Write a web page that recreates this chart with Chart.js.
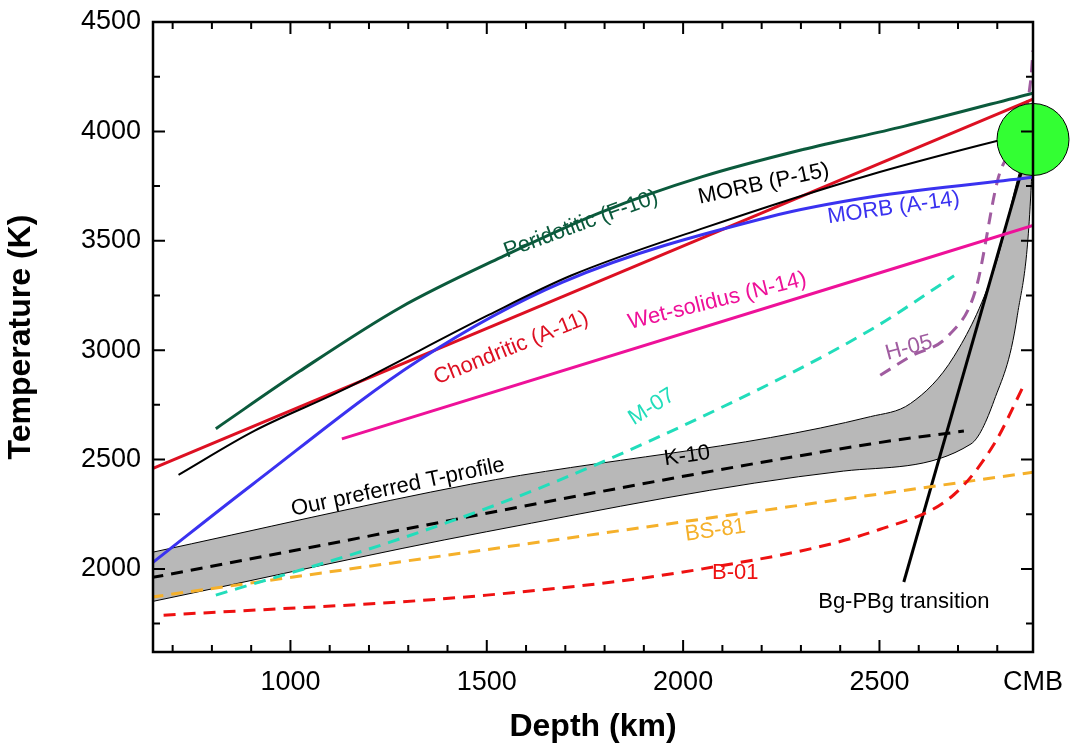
<!DOCTYPE html>
<html>
<head>
<meta charset="utf-8">
<script src="https://cdn.jsdelivr.net/npm/chart.js@4.4.0/dist/chart.umd.min.js"></script>
<style>
  body { margin: 0; background: #fff; }
  #wrap { width: 1071px; height: 746px; }
</style>
</head>
<body>
<div id="wrap"><canvas id="chart"></canvas></div>
<script>
// data (depth km, temperature K)
const periF10 = [[810,2641],[1023,2903],[1279,3194],[1536,3424],[1792,3631],[2049,3793],[2305,3917],[2562,4023],[2891,4175]];
const morbP15 = [[715,2430],[908,2631],[1131,2816],[1505,3161],[1715,3341],[2044,3553],[2477,3802],[2891,4000]];
const morbA14 = [[650,2030],[904,2387],[1328,2955],[1692,3310],[2221,3610],[2477,3700],[2891,3790]];
const chondA11 = [[646,2456],[2891,4147]];
const wetN14 = [[1131,2594],[2891,3570]];
const m07 = [[810,1880],[1250,2120],[1659,2387],[2100,2740],[2477,3092],[2690,3340]];
const k10 = [[646,1960],[2477,2571],[2715,2630]];
const bandUpper = [[646,2075],[1459,2387],[2477,2696],[2579,2756],[2690,2972],[2792,3369],[2862,3848],[2891,4000]];
const bandLower = [[646,1850],[1500,2170],[2408,2447],[2733,2571],[2792,2770],[2851,3157],[2887,3770],[2891,4000]];
const h05 = [[2502,2885],[2580,2972],[2675,3065],[2745,3276],[2800,3770],[2885,4230],[2891,4370]];
const b01 = [[677,1788],[1500,1880],[2049,2000],[2500,2180],[2690,2340],[2792,2571],[2870,2848]];
const bs81 = [[646,1871],[2891,2442]];
const bgPbg = [[2562,1940],[2891,4000]];
const cmbSpot = [{x: 2891, y: 3963, r: 36}];

const xTicks = [1000, 1500, 2000, 2500, 2891];
const yTicks = [2000, 2500, 3000, 3500, 4000, 4500];

const labels = [
  {t: 'Peridotitic (F-10)', x: 1740, y: 3575, a: -20, c: '#0b5a3c'},
  {t: 'MORB (P-15)', x: 2205, y: 3760, a: -12, c: '#000'},
  {t: 'MORB (A-14)', x: 2536, y: 3650, a: -8, c: '#3a32f0'},
  {t: 'Wet-solidus (N-14)', x: 2087, y: 3225, a: -14, c: '#ee1199'},
  {t: 'Chondritic (A-11)', x: 1562, y: 3009, a: -22, c: '#dd1022'},
  {t: 'M-07', x: 1920, y: 2740, a: -32, c: '#22ddbb'},
  {t: 'H-05', x: 2575, y: 3010, a: -15, c: '#a05ca0'},
  {t: 'Our preferred T-profile', x: 1274, y: 2373, a: -12, c: '#000'},
  {t: 'K-10', x: 2010, y: 2516, a: -8, c: '#000'},
  {t: 'BS-81', x: 2082, y: 2175, a: -8, c: '#f5b02a'},
  {t: 'B-01', x: 2133, y: 1980, a: 0, c: '#ee1111'},
  {t: 'Bg-PBg transition', x: 2562, y: 1848, a: 0, c: '#000'}
];

const pts = arr => arr.map(p => ({x: p[0], y: p[1]}));

function line(data, color, width, dash, extra) {
  return Object.assign({
    type: 'line', data: pts(data), borderColor: color, borderWidth: width,
    borderDash: dash || [], pointRadius: 0, fill: false,
    cubicInterpolationMode: 'monotone', order: 1
  }, extra || {});
}

const textPlugin = {
  id: 'texts',
  afterDatasetsDraw(chart) {
    const {ctx, scales: {x, y}} = chart;
    ctx.save();
    ctx.font = '22px "Liberation Sans", Arial, sans-serif';
    ctx.textAlign = 'center';
    ctx.textBaseline = 'middle';
    labels.forEach(l => {
      ctx.save();
      ctx.translate(x.getPixelForValue(l.x), y.getPixelForValue(l.y));
      ctx.rotate(l.a * Math.PI / 180);
      ctx.fillStyle = l.c;
      ctx.fillText(l.t, 0, 0);
      ctx.restore();
    });
    ctx.restore();
  }
};

// frame with inward ticks on all four sides, plus y tick labels
const framePlugin = {
  id: 'frame',
  afterDraw(chart) {
    const {ctx, chartArea: a, scales: {x, y}} = chart;
    ctx.save();
    ctx.strokeStyle = '#000';
    ctx.lineWidth = 2.5;
    ctx.strokeRect(a.left, a.top, a.right - a.left, a.bottom - a.top);
    ctx.lineWidth = 2;
    ctx.beginPath();
    for (let v = 700; v <= 2800; v += 100) {
      const px = x.getPixelForValue(v);
      const len = v % 500 === 0 ? 12 : 7;
      ctx.moveTo(px, a.bottom); ctx.lineTo(px, a.bottom - len);
      ctx.moveTo(px, a.top); ctx.lineTo(px, a.top + len);
    }
    for (let v = 1750; v < 4500; v += 250) {
      const py = y.getPixelForValue(v);
      const len = v % 500 === 0 ? 12 : 7;
      ctx.moveTo(a.left, py); ctx.lineTo(a.left + len, py);
      ctx.moveTo(a.right, py); ctx.lineTo(a.right - len, py);
    }
    ctx.stroke();
    ctx.fillStyle = '#000';
    ctx.font = '27px "Liberation Sans", Arial, sans-serif';
    ctx.textAlign = 'right';
    ctx.textBaseline = 'middle';
    yTicks.forEach(v => ctx.fillText(String(v), a.left - 12, y.getPixelForValue(v)));
    ctx.restore();
  }
};

const tickFont = {size: 27, family: '"Liberation Sans", Arial'};
const titleFont = {size: 32, weight: 'bold', family: '"Liberation Sans", Arial'};

new Chart(document.getElementById('chart'), {
  type: 'line',
  data: {
    datasets: [
      line(bandUpper, '#000', 1, [], {fill: '+1', backgroundColor: '#b8b8b8', order: 10}),
      line(bandLower, '#000', 1, [], {order: 9}),
      line(periF10, '#0b5a3c', 3),
      line(morbP15, '#000', 2),
      line(morbA14, '#3a32f0', 3),
      line(chondA11, '#dd1022', 3),
      line(wetN14, '#ee1199', 3),
      line(m07, '#22ddbb', 3, [12, 8]),
      line(k10, '#000', 3, [12, 8]),
      line(h05, '#a05ca0', 3, [12, 8]),
      line(b01, '#ee1111', 3, [12, 8]),
      line(bs81, '#f5b02a', 3, [12, 8]),
      line(bgPbg, '#000', 3),
      {type: 'bubble', data: cmbSpot, backgroundColor: '#33ff33', borderColor: '#000', borderWidth: 1, clip: false, order: 0}
    ]
  },
  options: {
    responsive: true, maintainAspectRatio: false, animation: false,
    layout: {autoPadding: false, padding: {left: 0, right: 38, top: 22, bottom: 0}},
    plugins: {legend: {display: false}, tooltip: {enabled: false}},
    scales: {
      x: {
        type: 'linear', min: 650, max: 2891,
        afterBuildTicks: s => { s.ticks = xTicks.map(v => ({value: v})); },
        afterFit: s => { s.height = 94; },
        grid: {display: false}, border: {display: false},
        ticks: {
          color: '#000', font: tickFont, padding: 6,
          callback: v => v === 2891 ? 'CMB' : String(v)
        },
        title: {display: true, text: 'Depth (km)', color: '#000', font: titleFont, padding: 0}
      },
      y: {
        min: 1620, max: 4500,
        afterFit: s => { s.width = 153; },
        grid: {display: false}, border: {display: false},
        ticks: {display: false},
        title: {display: true, text: 'Temperature (K)', color: '#000', font: titleFont, padding: 2}
      }
    }
  },
  plugins: [textPlugin, framePlugin]
});
</script>
</body>
</html>
